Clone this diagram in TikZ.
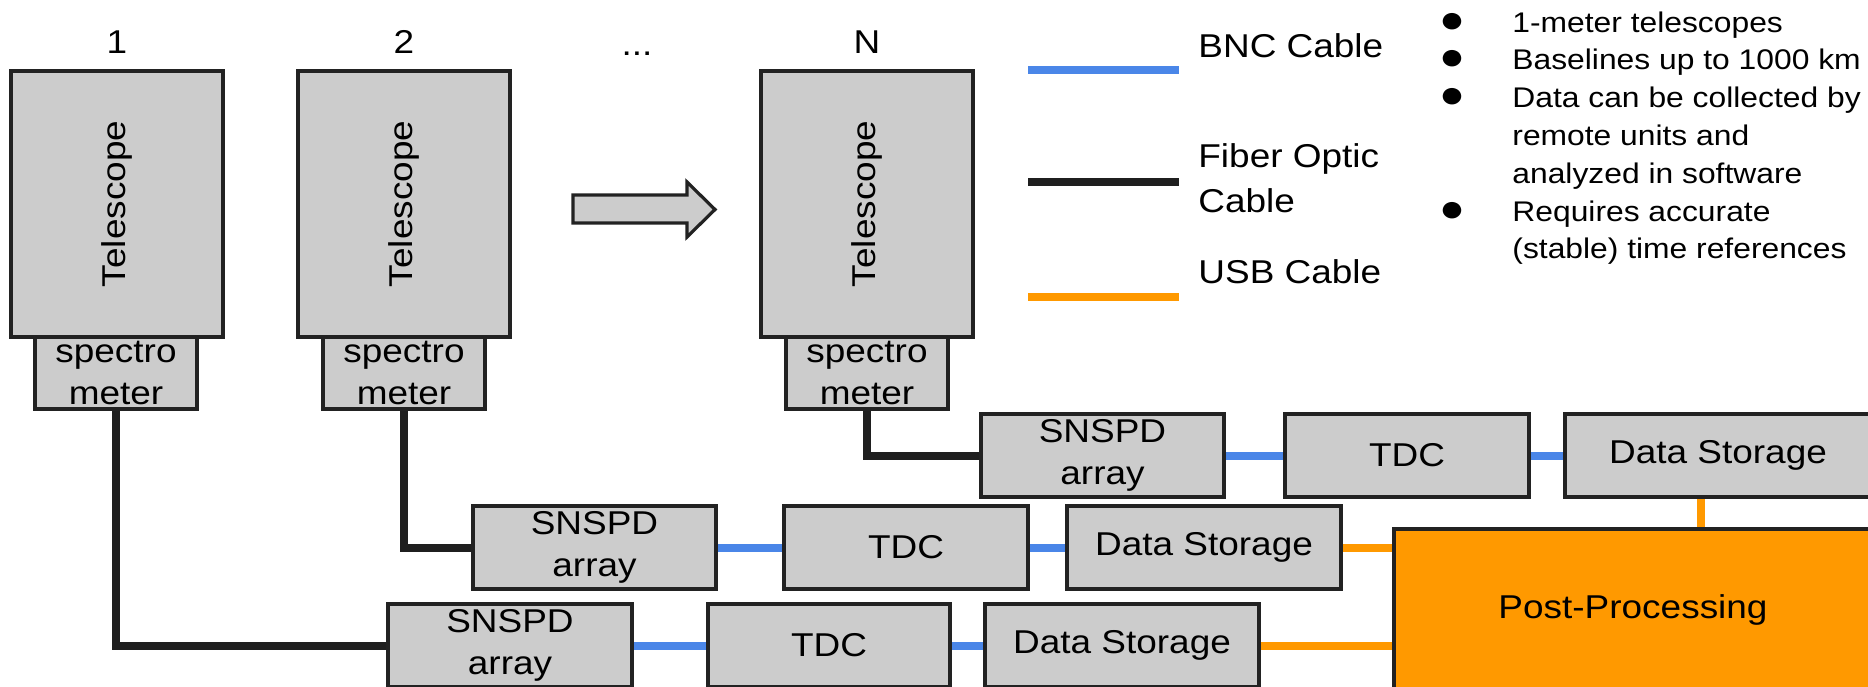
\documentclass[tikz,border=0pt]{standalone}
\usepackage{fontspec}
\usepackage{graphicx}
\setmainfont{Liberation Sans}[FakeStretch=1.12]
\usetikzlibrary{calc}
\usetikzlibrary{backgrounds}
\usetikzlibrary{positioning}

\definecolor{boxgray}{HTML}{CCCCCC}
\definecolor{boxline}{HTML}{222222}
\definecolor{bnccol}{HTML}{4A86E8}
\definecolor{usbcol}{HTML}{FF9900}
\definecolor{fibercol}{HTML}{1F1F1F}
\newcommand{\diagfont}{\fontsize{16.5pt}{21pt}\selectfont}
\newcommand{\legfont}{\fontsize{16.5pt}{22.5pt}\selectfont}
\newcommand{\notefont}{\fontsize{14.2pt}{18.9pt}\selectfont}
\newcommand{\bigdot}{\makebox[7pt]{\scalebox{1.35}{●}}}

\begin{document}
\begin{tikzpicture}[x=0.5pt, y=-0.5pt,
    box/.style={draw=boxline, fill=boxgray, line width=2pt, inner sep=0pt, align=center, font=\diagfont},
    fiber/.style={draw=fibercol, line width=4pt},
    bnc/.style={draw=bnccol, line width=4pt},
    usb/.style={draw=usbcol, line width=4pt}]
    \clip (0,0) rectangle (1868,686);
    % telescopes with their numbers
    \node[box, minimum width=106pt, minimum height=133pt] (tel1) at (117,204) {\rotatebox{90}{Telescope}};
    \node[box, minimum width=106pt, minimum height=133pt] (tel2) at (404,204) {\rotatebox{90}{Telescope}};
    \node[box, minimum width=106pt, minimum height=133pt] (telN) at (867,204) {\rotatebox{90}{Telescope}};
    \node[anchor=base, font=\diagfont] (num1) at (117,53) {1};
    \node[anchor=base, font=\diagfont] (num2) at (404,53) {2};
    \node[anchor=base, font=\diagfont] (dots) at (637,55) {...};
    \node[anchor=base, font=\diagfont] (numN) at (867,53) {N};
    % spectrometers under the telescopes
    \node[box, minimum width=81pt, minimum height=36pt] (spec1) at (116,373) {spectro\\meter};
    \node[box, minimum width=81pt, minimum height=36pt] (spec2) at (404,373) {spectro\\meter};
    \node[box, minimum width=81pt, minimum height=36pt] (specN) at (867,373) {spectro\\meter};
    % block arrow between 2 and N
    \draw[boxline, fill=boxgray, line width=1.6pt] (573,195) -- (687,195) -- (687,182) -- (715,209.5)
        -- (687,237) -- (687,223) -- (573,223) -- cycle;
    % chain of telescope N
    \node[box, minimum width=121.5pt, minimum height=41.5pt] (snspdN) at (1102.5,455.5) {SNSPD\\array};
    \node[box, minimum width=122pt, minimum height=41.5pt] (tdcN) at (1407,455.5) {TDC};
    \node[box, minimum width=153pt, minimum height=41.5pt] (dsN) at (1718,455.5) {Data Storage};
    % chain of telescope 2
    \node[box, minimum width=121.5pt, minimum height=41.5pt] (snspd2) at (594.5,547.5) {SNSPD\\array};
    \node[box, minimum width=122pt, minimum height=41.5pt] (tdc2) at (906,547.5) {TDC};
    \node[box, minimum width=137pt, minimum height=41.5pt] (ds2) at (1204,547.5) {Data Storage};
    % chain of telescope 1
    \node[box, minimum width=122pt, minimum height=41.5pt] (snspd1) at (510,645.5) {SNSPD\\array};
    \node[box, minimum width=121pt, minimum height=41.5pt] (tdc1) at (829,645.5) {TDC};
    \node[box, minimum width=137pt, minimum height=41.5pt] (ds1) at (1122,645.5) {Data Storage};
    % post-processing
    \node[box, fill=usbcol, minimum width=239pt, minimum height=81pt] (pp) at (1633,610) {Post-Processing};
    % cables, behind the boxes
    \begin{scope}[on background layer]
        \draw[fiber] (spec1.south) |- (snspd1.west);
        \draw[fiber] (spec2.south) |- (snspd2.west);
        \draw[fiber] (specN.south) |- (snspdN.west);
        \draw[bnc] (snspd1.east) -- (tdc1.west);
        \draw[bnc] (tdc1.east) -- (ds1.west);
        \draw[bnc] (snspd2.east) -- (tdc2.west);
        \draw[bnc] (tdc2.east) -- (ds2.west);
        \draw[bnc] (snspdN.east) -- (tdcN.west);
        \draw[bnc] (tdcN.east) -- (dsN.west);
        \draw[usb] (ds1.east) -- (ds1.east -| pp.west);
        \draw[usb] (ds2.east) -- (ds2.east -| pp.west);
        \draw[usb] ([xshift=-8.5pt]dsN.south) -- ([xshift=-8.5pt]dsN.south |- pp.north);
    \end{scope}
    % legend
    \draw[bnc] (1028,70) -- ++(151,0);
    \draw[fiber] (1028,182) -- ++(151,0);
    \draw[usb] (1028,297) -- ++(151,0);
    \node[anchor=base west, inner sep=0pt, font=\legfont] (legbnc) at (1198,57) {BNC Cable};
    \node[anchor=west, inner sep=0pt, align=left, font=\legfont] (legfiber) at (1198,178.5) {Fiber Optic\\Cable};
    \node[anchor=base west, inner sep=0pt, font=\legfont] (legusb) at (1198,283) {USB Cable};
    % notes
    \node[anchor=base west, inner sep=0pt, font=\notefont] (notes) at (1445,32) {%
        \begin{tabular}[t]{@{}l@{\hspace{26.5pt}}l@{}}
        \bigdot & 1-meter telescopes\\
        \bigdot & Baselines up to 1000 km\\
        \bigdot & Data can be collected by\\
                & remote units and\\
                & analyzed in software\\
        \bigdot & Requires accurate\\
                & (stable) time references
        \end{tabular}};
\end{tikzpicture}
\end{document}
